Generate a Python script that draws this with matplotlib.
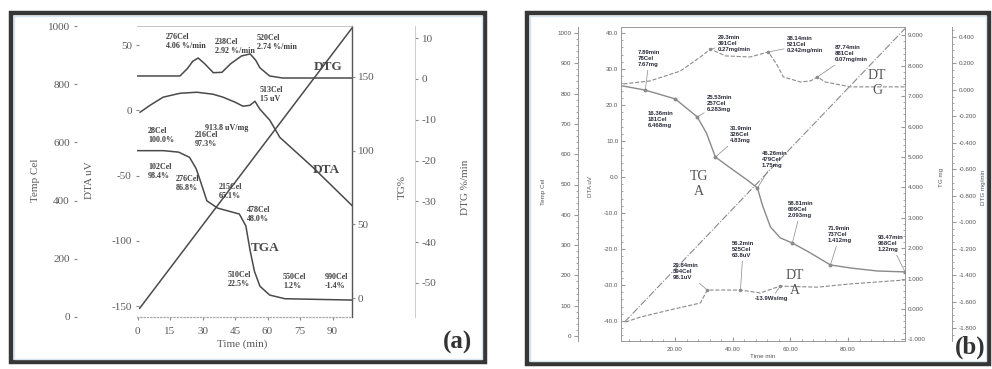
from __future__ import annotations

import matplotlib

matplotlib.use("Agg")
import matplotlib.pyplot as plt
from matplotlib.patches import Rectangle
from matplotlib.ticker import FormatStrFormatter, MultipleLocator

W, H = 992, 369
SERIF = "Liberation Serif"
SANS = "Liberation Sans"

plt.rcParams["font.family"] = [SERIF, "DejaVu Serif"]
plt.rcParams["axes.unicode_minus"] = False

# ---- panel (a): values, time in min
temp_a_time = [1, 99]
temp_a = [30, 993]

tga_time = [0, 12, 19, 24, 27, 29, 32, 37, 42, 47, 50, 52, 54, 56.5, 61, 68, 99]
tga_pct = [100, 100, 99, 95.5, 88, 79.5, 66, 61, 59, 57, 49, 32, 18, 8, 2, -0.5, -1.4]

dtg_a_time = [0, 19.6, 23, 25.5, 28, 31, 35, 39, 43, 48, 52, 54.5, 56.5, 61, 67, 99]
dtg_a = [0.7, 0.7, 2.5, 4.3, 5.1, 3.7, 1.5, 1.6, 3.7, 5.6, 6.1, 4.6, 2.7, 0.7, 0.2, 0.2]

dta_a_time = [1.2, 5.8, 11.8, 19.6, 27.4, 34.8, 39.5, 45, 48.7, 51.9, 54.2, 56.5, 61.1, 65.7, 81, 99]
dta_a = [-1.5, 3.8, 10, 13, 13.8, 12.3, 10, 6.2, 3.1, 3.8, 6.9, 0.8, -7.7, -20.8, -43.8, -73]

notes_a = ["276Cel\n4.06 %/min", "238Cel\n2.92 %/min", "520Cel\n2.74 %/min",
           "513Cel\n15 uV", "913.8 uV/mg",
           "28Cel\n100.0%", "216Cel\n97.3%", "102Cel\n98.4%", "276Cel\n86.8%",
           "215Cel\n65.1%", "478Cel\n48.0%", "510Cel\n22.5%", "550Cel\n1.2%",
           "990Cel\n-1.4%"]

# ---- panel (b)
temp_b_time = [2.5, 99.8]
temp_b = [46, 1015]

tgb_time = [1.7, 9.7, 20.1, 27.7, 30.9, 34.0, 39.2, 45.1, 48.6, 50.3, 53.1, 56.5,
            60.7, 66.3, 73.9, 80.8, 90.2, 99.8]
tgb_mg = [7.34, 7.20, 6.91, 6.32, 5.79, 5.00, 4.64, 4.24, 3.98, 3.42, 2.70, 2.34,
          2.17, 1.88, 1.45, 1.35, 1.25, 1.22]

dtgb_time = [2.1, 11.4, 21.9, 28.8, 32.3, 37.5, 46.1, 52.4, 55.2, 57.6, 63.5, 67.0,
             69.4, 72.1, 80.8, 99.8]
dtgb = [0.045, 0.068, 0.143, 0.249, 0.309, 0.257, 0.249, 0.287, 0.196, 0.098, 0.060,
        0.068, 0.098, 0.060, 0.023, 0.023]

dtab_time = [2.8, 8.0, 18.4, 28.8, 31.2, 42.7, 49.6, 56.5, 69.4, 80.8, 99.8]
dtab = [-40.3, -38.9, -36.9, -35.0, -31.4, -31.4, -32.2, -30.3, -30.6, -29.7, -28.6]

notes_b = ["7.89min\n78Cel\n7.67mg", "16.36min\n181Cel\n6.468mg", "25.53min\n257Cel\n6.283mg",
           "29.3min\n391Cel\n0.27mg/min", "31.9min\n326Cel\n4.83mg",
           "38.14min\n521Cel\n0.242mg/min", "87.74min\n881Cel\n0.07mg/min",
           "46.26min\n479Cel\n1.75mg", "58.81min\n609Cel\n2.093mg", "71.9min\n737Cel\n1.412mg",
           "93.47min\n968Cel\n1.22mg", "56.2min\n525Cel\n63.8uV", "29.84min\n394Cel\n98.1uV",
           "-13.9Ws/mg"]


def lin_lim(v1, p1, v2, p2, lo, hi):
    k = (v2 - v1) / (p2 - p1)
    return v1 + k * (lo - p1), v1 + k * (hi - p1)


def fxy(x, y):
    return x / W, 1 - y / H


def add_axes_px(fig, box, xlim, ylim):
    left, top, right, bottom = box
    ax = fig.add_axes([left / W, 1 - bottom / H, (right - left) / W, (bottom - top) / H])
    ax.set_xlim(*xlim)
    ax.set_ylim(*ylim)
    ax.patch.set_visible(False)
    for spine in ax.spines.values():
        spine.set_visible(False)
    ax.tick_params(axis="x", which="both", bottom=False, labelbottom=False)
    ax.tick_params(axis="y", which="both", left=False, labelleft=False)
    return ax


def y_scale(ax, side, x_px, box, spine=None, lw=0.7, **tick_kw):
    left, _, right, _ = box
    ax.yaxis.set_ticks_position(side)
    ax.spines[side].set_position(("axes", (x_px - left) / (right - left)))
    if spine:
        ax.spines[side].set_visible(True)
        ax.spines[side].set_color(spine)
        ax.spines[side].set_linewidth(lw)
    ax.tick_params(axis="y", which="both", **{side: True, "label" + side: True})
    ax.tick_params(axis="y", **tick_kw)


def frame(fig, left, top, right, bottom):
    fig.add_artist(Rectangle(fxy(left, bottom), (right - left) / W, (bottom - top) / H,
                             transform=fig.transFigure, fill=False, lw=3.2, ec="#363636"))
    fig.add_artist(Rectangle(fxy(left + 3, bottom - 3), (right - left - 6) / W,
                             (bottom - top - 6) / H, transform=fig.transFigure,
                             fill=False, lw=1.0, ec="#d5e4ee"))


def plot_panel_a(fig):
    box = (137, 26, 352, 317)
    xlim = lin_lim(0, 137.5, 90, 332.5, 137, 352)
    grey = "#5a5a5a"
    line = dict(color="#4a4a4a", lw=1.1)
    tick_font = dict(labelsize=8, labelcolor=grey, color="#888888")

    ax_box = add_axes_px(fig, box, xlim, (0, 1))
    for name, col, ls, lw in [("top", "#bbbbbb", "-", 0.6), ("bottom", "#aaaaaa", ":", 0.9),
                              ("right", "#555555", "-", 1.0)]:
        ax_box.spines[name].set_visible(True)
        ax_box.spines[name].set(color=col, linestyle=ls, linewidth=lw)
    ax_box.tick_params(axis="x", bottom=True, labelbottom=True, length=2, pad=5, **tick_font)
    ax_box.set_xticks(range(0, 91, 15))
    ax_box.set_yticks([])

    ax_temp = add_axes_px(fig, box, xlim, lin_lim(1000, 26, 0, 317, 317, 26))
    y_scale(ax_temp, "left", 74, box, direction="in", length=2, pad=3, **tick_font)
    ax_temp.set_yticks(range(0, 1001, 200))
    ax_temp.plot(temp_a_time, temp_a, **line)

    ax_dta = add_axes_px(fig, box, xlim, lin_lim(50, 45, -150, 306, 317, 26))
    y_scale(ax_dta, "left", 136, box, direction="in", length=2, pad=3, **tick_font)
    ax_dta.set_yticks(range(-150, 51, 50))
    ax_dta.plot(dta_a_time, dta_a, **line)

    ax_tg = add_axes_px(fig, box, xlim, lin_lim(150, 77, 0, 298, 317, 26))
    y_scale(ax_tg, "right", 352, box, direction="out", length=2, pad=2, **tick_font)
    ax_tg.set_yticks(range(0, 151, 50))
    ax_tg.plot(tga_time, tga_pct, **line)

    ax_dtg = add_axes_px(fig, box, xlim, lin_lim(10, 38, -50, 283, 317, 26))
    y_scale(ax_dtg, "right", 415, box, spine="#cccccc", direction="out", length=2, pad=3,
            **tick_font)
    ax_dtg.set_yticks(range(-50, 11, 10))
    ax_dtg.plot(dtg_a_time, dtg_a, **line)

    lab = dict(family=SERIF, fontsize=8, color=grey, rotation=90, ha="center", va="center")
    fig.text(*fxy(35, 180), "Temp Cel", **lab)
    fig.text(*fxy(90, 180), "DTA uV", **lab)
    fig.text(*fxy(402, 187), "TG%", **lab)
    fig.text(*fxy(466, 187), "DTG %/min", **lab)
    fig.text(*fxy(242, 344), "Time (min)", family=SERIF, fontsize=8, color=grey,
             ha="center", va="center")

    spots = [(166, 33), (215, 38), (257, 34), (260, 86), (205, 124), (148, 127), (195, 131),
             (148, 163), (176, 175), (219, 183), (247, 206), (228, 271), (283, 273), (325, 273)]
    for text, (x, y) in zip(notes_a, spots):
        fig.text(*fxy(x, y), text, family=SERIF, fontsize=5.8, fontweight="bold",
                 color="#3d3d3d", ha="left", va="top", linespacing=1.2)

    big = dict(family=SERIF, fontsize=9.5, fontweight="bold", color="#4a4a4a",
               ha="center", va="center")
    fig.text(*fxy(328, 67), "DTG", **big)
    fig.text(*fxy(326, 170), "DTA", **big)
    fig.text(*fxy(265, 248), "TGA", **big)
    fig.text(*fxy(458, 342), "(a)", family=SERIF, fontsize=18, fontweight="bold",
             color="#333333", ha="center", va="center")


def plot_panel_b(fig):
    box = (621, 27, 905, 341)
    xlim = lin_lim(20, 675, 80, 848, 621, 905)
    grey = "#8a8a8a"
    tick_font = dict(labelsize=4.5, labelcolor="#555555", color="#999999")

    ax_box = add_axes_px(fig, box, xlim, (0, 1))
    for spine in ax_box.spines.values():
        spine.set_visible(True)
        spine.set(color="#999999", linewidth=0.7)
    ax_box.tick_params(axis="x", which="both", bottom=True, labelbottom=True,
                       direction="in", **tick_font)
    ax_box.tick_params(axis="x", length=3, pad=4)
    ax_box.tick_params(axis="x", which="minor", length=1.5)
    ax_box.xaxis.set_major_locator(MultipleLocator(20))
    ax_box.xaxis.set_minor_locator(MultipleLocator(4))
    ax_box.xaxis.set_major_formatter(FormatStrFormatter("%.2f"))
    ax_box.set_yticks([])
    plt.setp(ax_box.get_xticklabels(), family=SANS)

    def scale(side, x_px, ylim, major, minor, fmt, spine, direction):
        ax = add_axes_px(fig, box, xlim, ylim)
        y_scale(ax, side, x_px, box, spine=spine, direction=direction, **tick_font)
        ax.tick_params(axis="y", which="major", length=3, pad=2)
        ax.tick_params(axis="y", which="minor", length=1.5, direction=direction,
                       color="#999999")
        ax.yaxis.set_major_locator(MultipleLocator(major))
        ax.yaxis.set_minor_locator(MultipleLocator(minor))
        ax.yaxis.set_major_formatter(FormatStrFormatter(fmt))
        plt.setp(ax.get_yticklabels(), family=SANS)
        return ax

    ax_temp = scale("left", 578, lin_lim(1000, 33, 0, 336, 341, 27), 100, 20, "%d",
                    "#999999", "out")
    ax_dta = scale("left", 621, lin_lim(40, 33, -40, 321, 341, 27), 10, 2, "%.1f",
                   None, "in")
    ax_tg = scale("right", 905, lin_lim(9, 35.4, -1, 339.4, 341, 27), 1, 0.2, "%.3f",
                  None, "in")
    ax_dtg = scale("right", 952, lin_lim(0.4, 37, -1.8, 328, 341, 27), 0.2, 0.05, "%.3f",
                   "#999999", "out")

    ax_temp.plot(temp_b_time, temp_b, color=grey, lw=0.8, ls="-.")
    ax_dta.plot(dtab_time, dtab, color=grey, lw=0.8, ls="--", marker="o", ms=1.5,
                markevery=[4, 5, 7])
    ax_dtg.plot(dtgb_time, dtgb, color=grey, lw=0.8, ls="--", marker="o", ms=1.5,
                markevery=[4, 7, 12])
    ax_tg.plot(tgb_time, tgb_mg, color=grey, lw=1.0, marker="o", ms=1.8,
               markevery=[1, 2, 3, 5, 8, 12, 14, 17])

    # text corner (px) and the curve point each note points at
    spots = [((638, 50), ax_tg, tgb_time, tgb_mg, 1),
             ((648, 111), None, None, None, None),
             ((707, 95), ax_tg, tgb_time, tgb_mg, 3),
             ((718, 35), ax_dtg, dtgb_time, dtgb, 4),
             ((730, 126), ax_tg, tgb_time, tgb_mg, 5),
             ((787, 36), ax_dtg, dtgb_time, dtgb, 7),
             ((835, 45), ax_dtg, dtgb_time, dtgb, 12),
             ((762, 151), ax_tg, tgb_time, tgb_mg, 8),
             ((788, 201), ax_tg, tgb_time, tgb_mg, 12),
             ((828, 226), ax_tg, tgb_time, tgb_mg, 14),
             ((878, 235), ax_tg, tgb_time, tgb_mg, 17),
             ((732, 241), ax_dta, dtab_time, dtab, 5),
             ((673, 263), ax_dta, dtab_time, dtab, 4),
             ((755, 296), ax_dta, dtab_time, dtab, 7)]
    note = dict(family=SANS, fontsize=4.3, fontweight="bold", color="#2a2a3a",
                ha="left", va="top", linespacing=1.3)
    for text, ((x, y), ax, xs, ys, i) in zip(notes_b, spots):
        if ax is None:
            fig.text(*fxy(x, y), text, **note)
            continue
        ax.annotate(text, xy=(xs[i], ys[i]), xycoords="data", xytext=fxy(x, y),
                    textcoords="figure fraction",
                    arrowprops=dict(arrowstyle="-", color="#888888", lw=0.5,
                                    shrinkA=0, shrinkB=1), **note)

    big = dict(family=SERIF, fontsize=10, color="#555555", ha="center", va="center",
               linespacing=1.15)
    fig.text(*fxy(699, 184), "TG\nA", **big)
    fig.text(*fxy(877, 83), "DT\nG", **big)
    fig.text(*fxy(795, 283), "DT\nA", **big)

    lab = dict(family=SANS, fontsize=4.5, color="#555555", rotation=90,
               ha="center", va="center")
    fig.text(*fxy(543, 192), "Temp Cel", **lab)
    fig.text(*fxy(590, 187), "DTA uV", **lab)
    fig.text(*fxy(942, 177), "TG mg", **lab)
    fig.text(*fxy(984, 187), "DTG mg/min", **lab)
    fig.text(*fxy(763, 357), "Time min", family=SANS, fontsize=4.5, color="#555555",
             ha="center", va="center")
    fig.text(*fxy(970, 347), "(b)", family=SERIF, fontsize=18, fontweight="bold",
             color="#333333", ha="center", va="center")


def main() -> None:
    fig = plt.figure(figsize=(W / 100, H / 100), dpi=100, facecolor="white")
    frame(fig, 11, 13, 485, 362)
    frame(fig, 527, 13, 989, 364)
    plot_panel_a(fig)
    plot_panel_b(fig)
    fig.savefig("out.png", dpi=100, facecolor="white")
    plt.close(fig)


if __name__ == "__main__":
    main()
